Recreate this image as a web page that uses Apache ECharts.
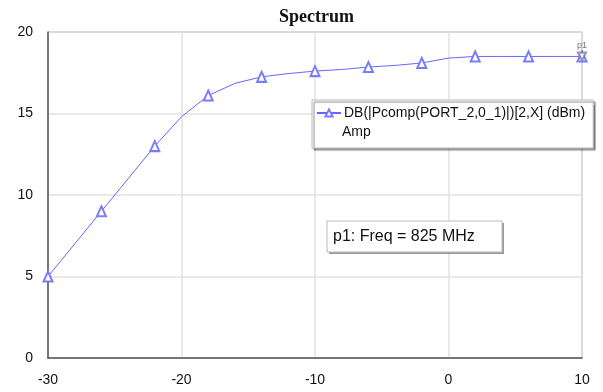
<!DOCTYPE html>
<html>
<head>
<meta charset="utf-8">
<script src="https://cdn.jsdelivr.net/npm/echarts@6/dist/echarts.min.js"></script>
<style>html,body{margin:0;padding:0;background:#fff}#c{width:603px;height:392px}</style>
</head>
<body>
<div id="c"></div>
<script>
var titleText = 'Spectrum';
var seriesName = 'DB(|Pcomp(PORT_2,0_1)|)[2,X] (dBm)';
var seriesSub = 'Amp';
var markerLabel = 'p1: Freq = 825 MHz';
var xValues = [-30,-28,-26,-24,-22,-20,-18,-16,-14,-12,-10,-8,-6,-4,-2,0,2,4,6,8,10];
var yValues = [5.0,7.0,9.0,11.0,13.0,14.8,16.1,16.85,17.25,17.45,17.6,17.7,17.85,17.95,18.1,18.4,18.5,18.5,18.5,18.5,18.5];
var markerEvery = 2;
var p1Point = [10, 18.5];
var xTicks = {min: -30, max: 10, interval: 10};
var yTicks = {min: 0, max: 20, interval: 5};

var lineColor = '#6666ff';
var data = xValues.map(function (x, i) {
  var item = {value: [x, yValues[i]]};
  if (i % markerEvery !== 0) item.symbol = 'none';
  return item;
});

var chart = echarts.init(document.getElementById('c'), null, {renderer: 'canvas'});
chart.setOption({
  animation: false,
  backgroundColor: '#fff',
  title: {
    text: titleText, left: 274, top: 3,
    textStyle: {fontFamily: 'Liberation Serif', fontWeight: 'bold', fontSize: 18, color: '#111'}
  },
  grid: {left: 48, top: 32, width: 534, height: 326, show: true, borderColor: '#8a8a8a', borderWidth: 1},
  xAxis: {
    type: 'value', min: xTicks.min, max: xTicks.max, interval: xTicks.interval,
    axisLine: {onZero: false, lineStyle: {color: '#555', width: 1.5}},
    axisTick: {show: false},
    axisLabel: {fontFamily: 'Liberation Sans', fontSize: 14, color: '#111', margin: 15},
    splitLine: {lineStyle: {color: '#e2e2e2', width: 1.5}}
  },
  yAxis: {
    type: 'value', min: yTicks.min, max: yTicks.max, interval: yTicks.interval,
    axisLine: {show: true, onZero: false, lineStyle: {color: '#555', width: 1.5}},
    axisTick: {show: false},
    axisLabel: {fontFamily: 'Liberation Sans', fontSize: 14, color: '#111', margin: 15},
    splitLine: {lineStyle: {color: '#e2e2e2', width: 1.5}}
  },
  legend: {
    data: [seriesName],
    left: 312, top: 100, width: 280,
    orient: 'vertical',
    padding: [6, 8, 28, 4],
    backgroundColor: '#fff',
    borderColor: '#bbb', borderWidth: 1,
    shadowColor: 'rgba(0,0,0,0.45)', shadowBlur: 1, shadowOffsetX: 2, shadowOffsetY: 2,
    itemWidth: 24, itemHeight: 9, itemGap: 4,
    textStyle: {fontFamily: 'Liberation Sans', fontSize: 14, color: '#111', padding: [0, 0, 0, -2]}
  },
  graphic: [
    {type: 'text', left: 342, top: 125, z: 100,
     style: {text: seriesSub, font: '14px "Liberation Sans"', fill: '#111'}},
    {type: 'rect', shape: {x: 329, y: 223, width: 175, height: 31}, z: 90,
     style: {fill: '#9a9a9a'}},
    {type: 'rect', shape: {x: 327, y: 221, width: 175, height: 31}, z: 91,
     style: {fill: '#fff', stroke: '#bbb', lineWidth: 1}},
    {type: 'text', x: 333, y: 237, z: 92,
     style: {text: markerLabel, font: '16px "Liberation Sans"', fill: '#111', textVerticalAlign: 'middle'}}
  ],
  series: [
    {
      name: seriesName, type: 'line', data: data,
      showAllSymbol: true, symbol: 'emptyTriangle', symbolSize: [9, 10],
      lineStyle: {color: lineColor, width: 1},
      itemStyle: {color: '#7a7aff', borderColor: '#7a7aff', borderWidth: 0.6},
      z: 5
    },
    {
      name: 'p1', type: 'scatter', data: [p1Point],
      symbol: 'emptyTriangle', symbolRotate: 180, symbolSize: 8,
      itemStyle: {color: '#7a7a9a', borderColor: '#7a7a9a', borderWidth: 0.6},
      label: {show: true, formatter: 'p1', position: 'top', distance: 1,
              fontFamily: 'Liberation Sans', fontSize: 9, color: '#555'},
      z: 6
    }
  ]
});
</script>
</body>
</html>
